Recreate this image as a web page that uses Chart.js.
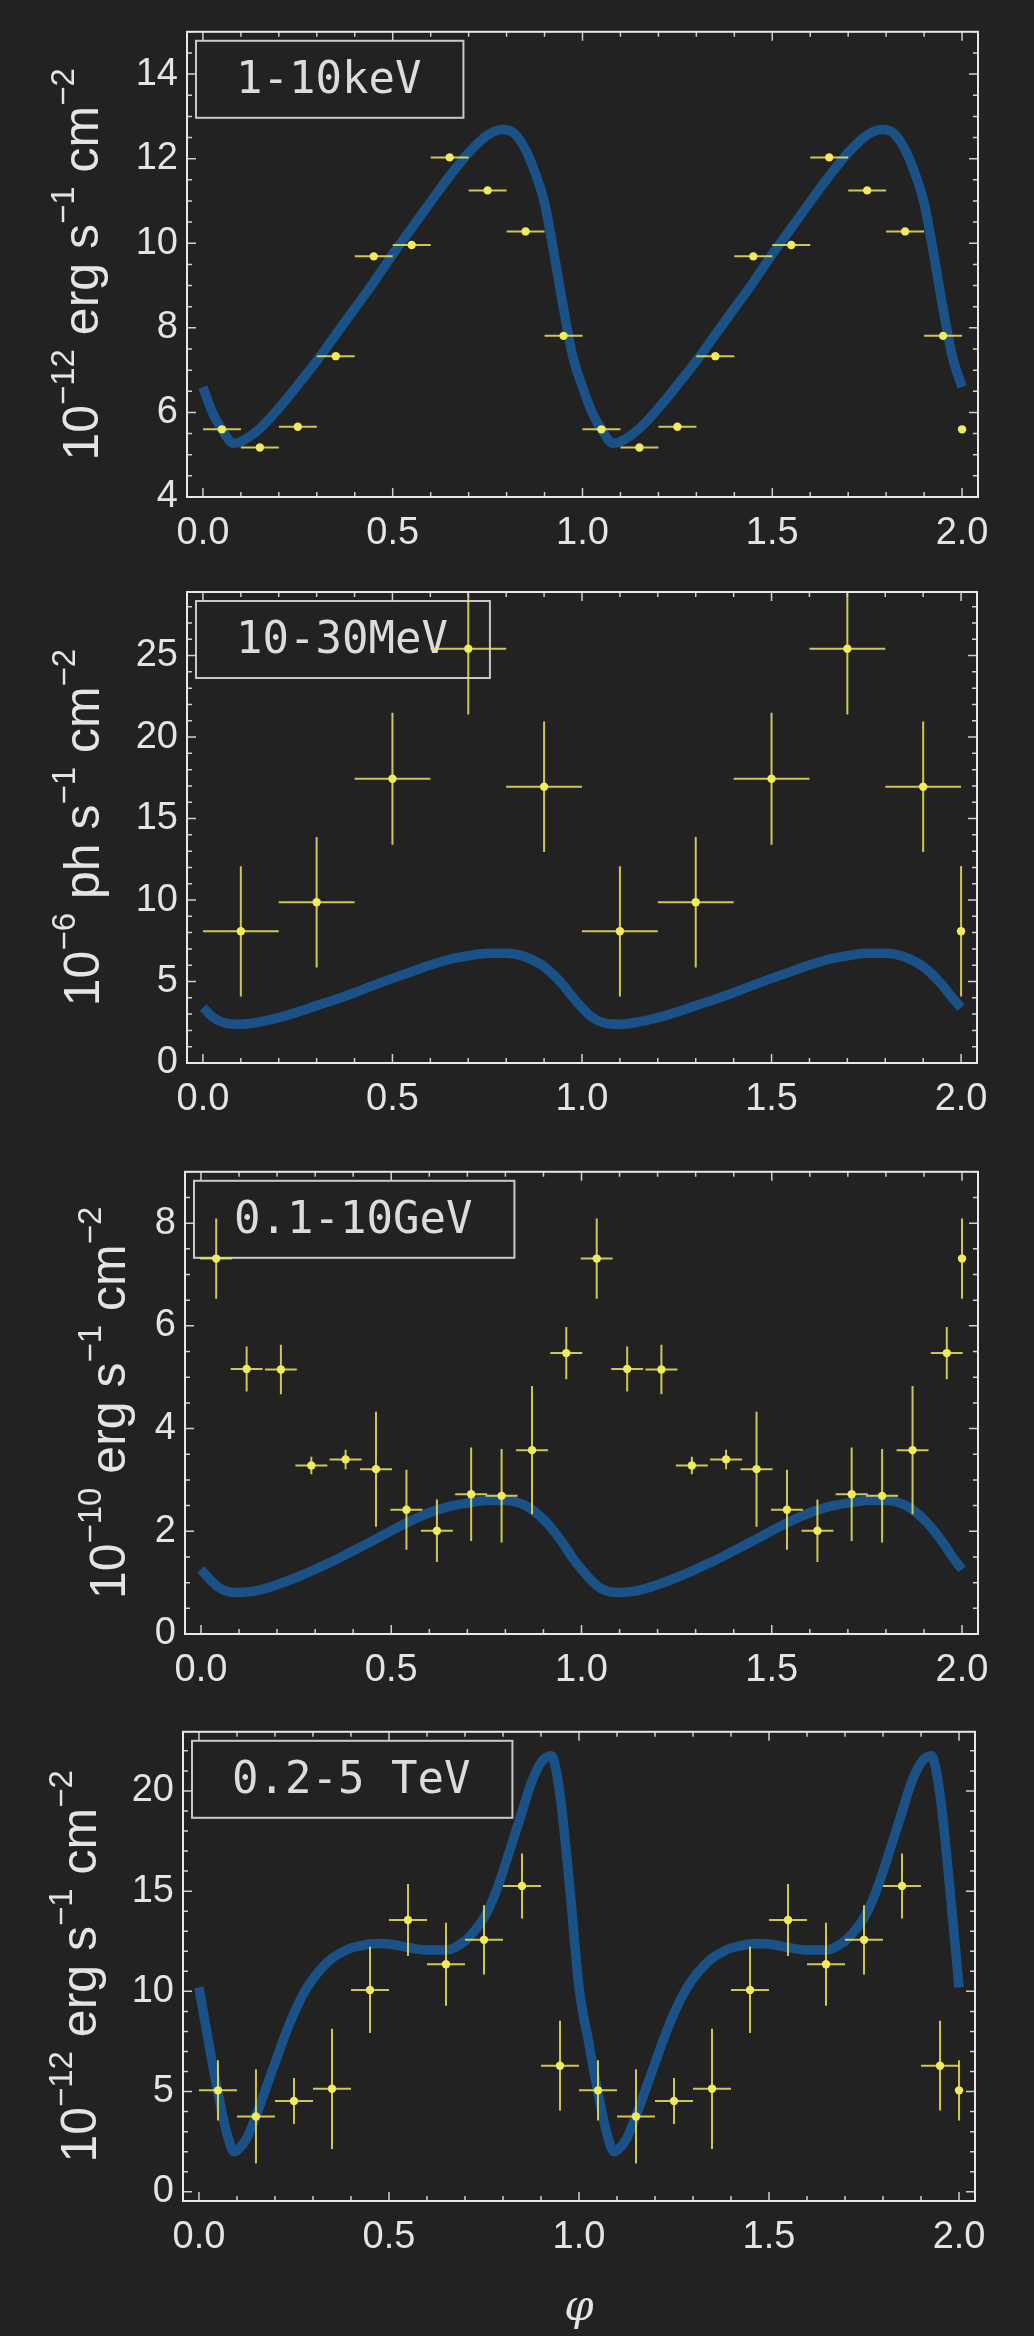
<!DOCTYPE html>
<html>
<head>
<meta charset="utf-8">
<script src="https://cdn.jsdelivr.net/npm/chart.js@4.4.1/dist/chart.umd.min.js"></script>
<style>
  html, body { margin: 0; padding: 0; background: #222222; }
  body { width: 1034px; height: 2336px; position: relative; overflow: hidden; }
  canvas { position: absolute; left: 0; }
</style>
</head>
<body>
<canvas id="p1" width="1034" height="560" style="top:0px"></canvas>
<canvas id="p2" width="1034" height="580" style="top:560px"></canvas>
<canvas id="p3" width="1034" height="560" style="top:1140px"></canvas>
<canvas id="p4" width="1034" height="636" style="top:1700px"></canvas>
<script>
// --- data (one orbital cycle, plotted twice) ---

// x ticks shared by all panels
const phaseTicks = [0, 0.5, 1.0, 1.5, 2.0];

// 1-10 keV
const xrayPhase = [0.05, 0.15, 0.25, 0.35, 0.45, 0.55, 0.65, 0.75, 0.85, 0.95];
const xrayFlux = [5.6, 5.17, 5.66, 7.33, 9.69, 9.96, 12.03, 11.25, 10.28, 7.81];
const xrayErr = [0, 0, 0, 0, 0, 0, 0, 0, 0, 0];
const xrayBin = 0.05;
const xrayModelPhase = [0, 0.025, 0.05, 0.08, 0.1, 0.15, 0.2, 0.25, 0.3, 0.35, 0.4, 0.45, 0.5, 0.55, 0.6, 0.65, 0.7, 0.75, 0.79, 0.82, 0.85, 0.875, 0.9, 0.925, 0.95, 0.975];
const xrayModel = [6.6, 6.0, 5.6, 5.27, 5.31, 5.62, 6.1, 6.65, 7.22, 7.84, 8.46, 9.08, 9.74, 10.36, 10.98, 11.59, 12.14, 12.56, 12.69, 12.6, 12.21, 11.67, 10.95, 9.75, 8.45, 7.3];
const xrayTicks = [4, 6, 8, 10, 12, 14];

// 10-30 MeV
const mevPhase = [0.1, 0.3, 0.5, 0.7, 0.9];
const mevFlux = [8.08, 9.86, 17.44, 25.42, 16.95];
const mevErr = [4.0, 4.0, 4.05, 4.03, 4.0];
const mevBin = 0.1;
const mevModelPhase = [0, 0.025, 0.05, 0.075, 0.1, 0.15, 0.2, 0.25, 0.3, 0.35, 0.4, 0.45, 0.5, 0.55, 0.6, 0.65, 0.7, 0.75, 0.8, 0.85, 0.9, 0.95, 0.975];
const mevModel = [3.4, 2.84, 2.52, 2.39, 2.38, 2.52, 2.78, 3.13, 3.52, 3.9, 4.31, 4.76, 5.19, 5.6, 6.01, 6.36, 6.58, 6.73, 6.73, 6.52, 5.91, 4.79, 4.05];
const mevTicks = [0, 5, 10, 15, 20, 25];

// 0.1-10 GeV
const gevPhase = [0.04, 0.12, 0.21, 0.29, 0.38, 0.46, 0.54, 0.62, 0.71, 0.79, 0.87, 0.96];
const gevFlux = [7.31, 5.16, 5.15, 3.28, 3.40, 3.21, 2.42, 2.01, 2.72, 2.69, 3.58, 5.47];
const gevErr = [0.78, 0.44, 0.48, 0.17, 0.19, 1.12, 0.78, 0.61, 0.91, 0.91, 1.25, 0.51];
const gevBin = 0.042;
const gevModelPhase = [0, 0.025, 0.05, 0.075, 0.1, 0.125, 0.15, 0.2, 0.25, 0.3, 0.35, 0.4, 0.45, 0.5, 0.55, 0.6, 0.65, 0.7, 0.75, 0.8, 0.85, 0.9, 0.95, 0.975];
const gevModel = [1.26, 1.05, 0.89, 0.82, 0.81, 0.82, 0.85, 0.96, 1.10, 1.26, 1.43, 1.62, 1.81, 2.01, 2.20, 2.36, 2.48, 2.55, 2.60, 2.60, 2.51, 2.23, 1.78, 1.5];
const gevTicks = [0, 2, 4, 6, 8];

// 0.2-5 TeV
const tevPhase = [0.05, 0.15, 0.25, 0.35, 0.45, 0.55, 0.65, 0.75, 0.85, 0.95];
const tevFlux = [5.06, 3.76, 4.53, 5.14, 10.07, 13.56, 11.35, 12.57, 15.26, 6.29];
const tevErr = [1.5, 2.35, 1.15, 3.0, 2.15, 1.8, 2.07, 1.73, 1.62, 2.24];
const tevBin = 0.05;
const tevModelPhase = [0, 0.025, 0.05, 0.075, 0.092, 0.1, 0.125, 0.15, 0.175, 0.2, 0.225, 0.25, 0.275, 0.3, 0.325, 0.35, 0.375, 0.4, 0.425, 0.45, 0.475, 0.5, 0.55, 0.6, 0.65, 0.7, 0.725, 0.75, 0.775, 0.8, 0.825, 0.85, 0.875, 0.9, 0.927, 0.95, 0.975];
const tevModel = [10.2, 7.5, 4.94, 2.8, 2.0, 2.06, 2.64, 3.79, 5.1, 6.42, 7.74, 8.9, 9.88, 10.63, 11.2, 11.65, 11.94, 12.16, 12.27, 12.36, 12.39, 12.36, 12.19, 12.06, 12.06, 12.52, 13.01, 13.67, 14.66, 15.98, 17.46, 18.95, 20.43, 21.42, 21.75, 19.8, 15.3];
const tevTicks = [0, 5, 10, 15, 20];

// --- styles ---
const BLUE = '#1a5287';
const YELLOW = '#f3ea5b';
const BAR = 'rgba(238,228,88,0.85)';
const TXT = '#e4e4e4';

// two cycles of points, plus the wrap-around bin at phase 2.0
function cyclePoints(phase, flux, err, bin) {
  const pts = [];
  [0, 1].forEach(c => phase.forEach((p, i) => pts.push({ x: c + p, y: flux[i], xErr: bin, yErr: err[i] })));
  pts.push({ x: 2.0, y: flux[0], xErr: 0, yErr: err[0] });
  return pts;
}
function cycleCurve(phase, model) {
  const pts = [];
  [0, 1].forEach(c => phase.forEach((p, i) => pts.push({ x: c + p, y: model[i] })));
  pts.push({ x: 2.0, y: model[0] });
  return pts;
}

const errorBars = {
  id: 'errorBars',
  beforeDatasetDraw(chart, args) {
    const ds = chart.data.datasets[args.index];
    if (!ds.withErrors) return;
    const { ctx, chartArea: a, scales: { x, y } } = chart;
    ctx.save();
    ctx.beginPath();
    ctx.rect(a.left, a.top, a.width, a.height);
    ctx.clip();
    ctx.strokeStyle = BAR;
    ctx.lineWidth = 2;
    ds.data.forEach(p => {
      const px = x.getPixelForValue(p.x), py = y.getPixelForValue(p.y);
      ctx.beginPath();
      if (p.xErr) {
        ctx.moveTo(x.getPixelForValue(p.x - p.xErr), py);
        ctx.lineTo(x.getPixelForValue(p.x + p.xErr), py);
      }
      if (p.yErr) {
        ctx.moveTo(px, y.getPixelForValue(p.y - p.yErr));
        ctx.lineTo(px, y.getPixelForValue(p.y + p.yErr));
      }
      ctx.stroke();
    });
    ctx.restore();
  }
};

// frame with inward ticks on all four sides
const frame = {
  id: 'frame',
  afterDraw(chart, args, opts) {
    const { ctx, chartArea: a, scales: { x, y } } = chart;
    ctx.save();
    ctx.strokeStyle = '#cfcfcf';
    ctx.lineWidth = 1.5;
    ctx.beginPath();
    for (let i = 0; i <= 20; i++) {
      const px = x.getPixelForValue(i / 10), len = i % 5 === 0 ? 9 : 5;
      ctx.moveTo(px, a.bottom); ctx.lineTo(px, a.bottom - len);
      ctx.moveTo(px, a.top); ctx.lineTo(px, a.top + len);
    }
    const step = opts.minorStep;
    for (let v = Math.ceil(y.min / step) * step; v <= y.max + 1e-9; v += step) {
      const py = y.getPixelForValue(v);
      const major = y.ticks.some(t => Math.abs(t.value - v) < 1e-6);
      const len = major ? 9 : 5;
      ctx.moveTo(a.left, py); ctx.lineTo(a.left + len, py);
      ctx.moveTo(a.right, py); ctx.lineTo(a.right - len, py);
    }
    ctx.stroke();
    ctx.strokeStyle = '#e8e8e8';
    ctx.lineWidth = 2;
    ctx.strokeRect(a.left, a.top, a.width, a.height);
    ctx.restore();
  }
};

// energy band box in the upper left corner
const bandLabel = {
  id: 'bandLabel',
  beforeDatasetsDraw(chart, args, opts) {
    const { ctx, chartArea: a } = chart;
    ctx.save();
    ctx.font = '44px "DejaVu Sans Mono"';
    const w = ctx.measureText(opts.text).width + 82, h = 77;
    const bx = a.left + 9, by = a.top + 9;
    ctx.strokeStyle = '#c8c8c8';
    ctx.lineWidth = 2;
    ctx.strokeRect(bx, by, w, h);
    ctx.fillStyle = '#dcdcdc';
    ctx.textAlign = 'left';
    ctx.textBaseline = 'middle';
    ctx.fillText(opts.text, bx + 40, by + h / 2 + 2);
    ctx.restore();
  }
};

// rotated unit title with real superscripts
const unitTitle = {
  id: 'unitTitle',
  afterDraw(chart, args, opts) {
    const { ctx, chartArea: a } = chart;
    const big = '50px "Liberation Sans"', small = '33px "Liberation Sans"';
    ctx.save();
    let total = 0;
    opts.parts.forEach(([t, sup]) => { ctx.font = sup ? small : big; total += ctx.measureText(t).width; });
    ctx.translate(opts.x, (a.top + a.bottom) / 2);
    ctx.rotate(-Math.PI / 2);
    ctx.fillStyle = TXT;
    ctx.textBaseline = 'alphabetic';
    let cx = -total / 2;
    opts.parts.forEach(([t, sup]) => {
      ctx.font = sup ? small : big;
      ctx.fillText(t, cx, sup ? -24 : 0);
      cx += ctx.measureText(t).width;
    });
    if (opts.xLabel) {
      ctx.setTransform(1, 0, 0, 1, 0, 0);
      ctx.font = 'italic 42px "DejaVu Serif"';
      ctx.textAlign = 'center';
      ctx.fillText(opts.xLabel, (a.left + a.right) / 2, chart.height - 16);
    }
    ctx.restore();
  }
};

const panels = [
  { id: 'p1', band: '1-10keV', phase: xrayPhase, flux: xrayFlux, err: xrayErr, bin: xrayBin,
    mPhase: xrayModelPhase, model: xrayModel, yTicks: xrayTicks, yMin: 4, yMax: 15, minor: 0.5,
    title: [['10'], ['\u221212', 1], [' erg s'], ['\u22121', 1], [' cm'], ['\u22122', 1]],
    box: { left: 187, right: 978, top: 23, bottom: 497, titleX: 98 } },
  { id: 'p2', band: '10-30MeV', phase: mevPhase, flux: mevFlux, err: mevErr, bin: mevBin,
    mPhase: mevModelPhase, model: mevModel, yTicks: mevTicks, yMin: 0, yMax: 28.9, minor: 1,
    title: [['10'], ['\u22126', 1], [' ph s'], ['\u22121', 1], [' cm'], ['\u22122', 1]],
    box: { left: 187, right: 977, top: 32, bottom: 503, titleX: 99 } },
  { id: 'p3', band: '0.1-10GeV', phase: gevPhase, flux: gevFlux, err: gevErr, bin: gevBin,
    mPhase: gevModelPhase, model: gevModel, yTicks: gevTicks, yMin: 0, yMax: 9, minor: 0.5,
    title: [['10'], ['\u221210', 1], [' erg s'], ['\u22121', 1], [' cm'], ['\u22122', 1]],
    box: { left: 185, right: 978, top: 22, bottom: 494, titleX: 125 } },
  { id: 'p4', band: '0.2-5 TeV', phase: tevPhase, flux: tevFlux, err: tevErr, bin: tevBin,
    mPhase: tevModelPhase, model: tevModel, yTicks: tevTicks, yMin: -0.46, yMax: 22.95, minor: 1,
    title: [['10'], ['\u221212', 1], [' erg s'], ['\u22121', 1], [' cm'], ['\u22122', 1]],
    box: { left: 183, right: 975, top: 28, bottom: 501, titleX: 96 }, xLabel: '\u03c6' }
];

panels.forEach(p => {
  const canvas = document.getElementById(p.id);
  const H = canvas.height;
  new Chart(canvas, {
    type: 'scatter',
    data: {
      datasets: [
        {
          type: 'line',
          data: cycleCurve(p.mPhase, p.model),
          borderColor: BLUE,
          borderWidth: 9.5,
          pointRadius: 0,
          cubicInterpolationMode: 'monotone',
          order: 2
        },
        {
          type: 'scatter',
          data: cyclePoints(p.phase, p.flux, p.err, p.bin),
          withErrors: true,
          pointRadius: 4.2,
          pointBackgroundColor: YELLOW,
          pointBorderWidth: 0,
          order: 1
        }
      ]
    },
    options: {
      responsive: false,
      animation: false,
      devicePixelRatio: 1,
      events: [],
      layout: { padding: { top: p.box.top, right: canvas.width - p.box.right, bottom: 0, left: 0 } },
      plugins: {
        legend: { display: false },
        tooltip: { enabled: false },
        bandLabel: { text: p.band },
        frame: { minorStep: p.minor },
        unitTitle: { parts: p.title, x: p.box.titleX, xLabel: p.xLabel }
      },
      scales: {
        x: {
          type: 'linear',
          min: -0.042,
          max: 2.042,
          grid: { display: false, drawTicks: false },
          border: { display: false },
          afterBuildTicks: s => { s.ticks = phaseTicks.map(v => ({ value: v })); },
          afterFit: s => { s.height = H - p.box.bottom; },
          ticks: {
            autoSkip: false,
            maxRotation: 0,
            padding: 14,
            color: TXT,
            font: { family: 'Liberation Sans', size: 38 },
            callback: v => v.toFixed(1)
          }
        },
        y: {
          type: 'linear',
          min: p.yMin,
          max: p.yMax,
          grid: { display: false, drawTicks: false },
          border: { display: false },
          afterBuildTicks: s => { s.ticks = p.yTicks.map(v => ({ value: v })); },
          afterFit: s => { s.width = p.box.left; },
          ticks: {
            autoSkip: false,
            padding: 9,
            color: TXT,
            font: { family: 'Liberation Sans', size: 38 },
            callback: v => String(v)
          }
        }
      }
    },
    plugins: [errorBars, bandLabel, frame, unitTitle]
  });
});
</script>
</body>
</html>
